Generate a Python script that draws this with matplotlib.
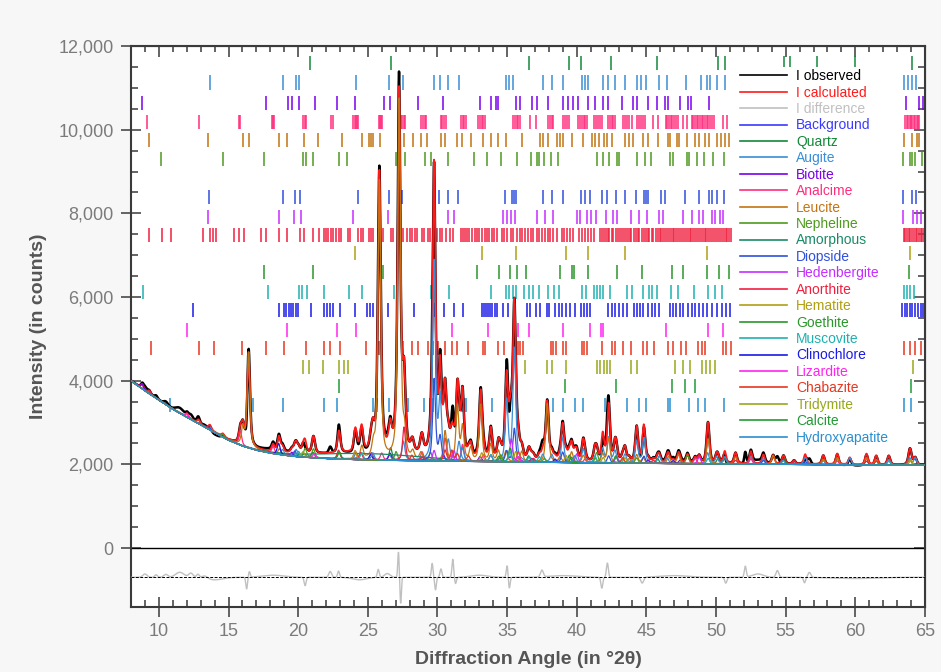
import numpy as np
import matplotlib
matplotlib.use('Agg')
import matplotlib.pyplot as plt
from matplotlib.lines import Line2D
from matplotlib.ticker import FixedLocator, FuncFormatter

plt.rcParams['font.family'] = ['Liberation Sans', 'DejaVu Sans']

# ---------------- data ----------------
X_MIN, X_MAX = 8.0, 65.0
Y_MIN, Y_MAX = -1410, 12000
DIFF_OFFSET = -700

# background (counts) at nodes (deg 2theta)
BG_X = [8, 9, 10, 11, 12, 13, 14, 15, 16, 17, 18, 19, 20, 22, 24, 26, 28, 30, 35, 40, 45, 50, 55, 60, 65]
BG_Y = [4000, 3760, 3540, 3320, 3130, 2950, 2760, 2580, 2440, 2340, 2270, 2220, 2180, 2140, 2115,
        2100, 2090, 2080, 2060, 2040, 2025, 2010, 2000, 1990, 1980]

LEGEND_LABELS = ['I observed', 'I calculated', 'I difference', 'Background', 'Quartz', 'Augite',
                 'Biotite', 'Analcime', 'Leucite', 'Nepheline', 'Amorphous', 'Diopside',
                 'Hedenbergite', 'Anorthite', 'Hematite', 'Goethite', 'Muscovite', 'Clinochlore',
                 'Lizardite', 'Chabazite', 'Tridymite', 'Calcite', 'Hydroxyapatite']
LEGEND_COLORS = ['#000000', '#ff1a1a', '#c0c0c0', '#3a3aff', '#13883a', '#3a8ed6',
                 '#7a00ea', '#ff2d7d', '#c27412', '#4f9a1f', '#1a8a66', '#3050dd',
                 '#c72cff', '#f0203f', '#b09f12', '#2b962b', '#1fb0b0', '#1a1ae6',
                 '#ff24f0', '#e8361e', '#98a81a', '#229a36', '#2a8fd0']

# reflection tick positions (deg 2theta) per phase
QUARTZ_TICKS = [20.86, 26.64, 36.54, 39.47, 40.29, 42.45, 45.79, 50.14, 50.62, 54.87, 55.32, 57.24, 59.96, 64.04]
AUGITE_TICKS = [13.69, 18.88, 19.86, 20.05, 24.16, 26.55, 27.56, 29.76, 30.19, 30.78, 31.55, 34.92, 35.12,
                35.42, 37.56, 38.2, 38.99, 40.35, 40.58, 40.83, 41.86, 42.26, 42.74, 43.46, 44.3, 44.62,
                44.97, 45.92, 46.49, 47.84, 48.89, 49.37, 49.56, 50.04, 50.63, 63.47, 63.75, 64.05, 64.38]
BIOTITE_TICKS = [8.79, 17.68, 19.26, 19.55, 20.07, 21.22, 22.78, 24.11, 26.19, 26.6, 28.59, 30.43, 33.06,
                 33.83, 34.2, 34.37, 35.64, 35.93, 36.77, 37.17, 37.96, 39.03, 39.4, 39.76, 40.1, 40.83,
                 41.31, 41.9, 42.26, 43.22, 44.06, 44.3, 45.13, 45.78, 46.33, 46.57, 47.41, 48.0, 48.17,
                 49.5, 63.67, 64.6, 64.85]
ANALCIME_TICKS = [9.15, 12.9, 15.77, 15.85, 18.12, 18.2, 18.28, 20.38, 20.46, 20.55, 22.37, 22.49, 23.97,
                  24.06, 24.15, 24.24, 24.33, 25.79, 25.88, 25.97, 26.05, 27.37, 27.47, 27.58, 27.68,
                  28.85, 28.95, 29.07, 29.18, 30.24, 30.36, 30.5, 30.62, 31.67, 31.8, 31.93, 32.05, 32.94,
                  33.06, 33.18, 33.3, 33.42, 35.45, 35.57, 35.69, 35.81, 35.93, 36.65, 37.08, 37.96, 38.08,
                  38.2, 38.32, 39.03, 39.17, 39.31, 39.46, 40.1, 40.22, 40.36, 40.5, 40.62, 40.71, 41.24,
                  41.38, 41.52, 41.66, 41.79, 42.26, 42.38, 42.5, 42.62, 42.74, 43.34, 43.48, 43.62, 43.78,
                  43.94, 44.34, 44.48, 44.62, 44.76, 44.9, 45.49, 45.85, 46.4, 46.5, 46.62, 46.74, 46.86,
                  46.98, 47.1, 47.28, 47.64, 47.89, 48.24, 48.36, 48.48, 48.6, 48.72, 48.84, 48.96, 49.08,
                  49.2, 49.32, 49.44, 49.56, 49.68, 49.84, 50.47, 50.75, 63.6, 63.7, 63.8, 63.9, 64.0,
                  64.1, 64.2, 64.3, 64.4, 64.5, 64.6]
LEUCITE_TICKS = [9.31, 13.52, 16.03, 16.44, 18.66, 19.19, 20.45, 21.39, 23.16, 24.57, 25.05, 25.2, 25.4,
                 25.88, 27.63, 28.23, 28.82, 29.23, 30.24, 30.55, 31.43, 31.79, 32.39, 33.25, 33.83, 34.37,
                 34.92, 36.05, 37.36, 37.6, 37.96, 38.6, 38.8, 38.99, 39.63, 40.47, 41.07, 41.3, 41.6,
                 41.95, 42.2, 42.5, 43.46, 43.75, 44.06, 44.77, 45.13, 45.8, 46.57, 46.69, 47.17, 47.35,
                 47.93, 48.48, 48.79, 49.2, 49.46, 50.04, 50.34, 50.64, 50.94, 63.5, 64.1, 64.4, 64.6]
NEPHELINE_TICKS = [10.17, 14.6, 17.56, 20.34, 20.58, 21.1, 22.96, 23.5, 27.03, 27.68, 29.11, 29.52, 30.78,
                   32.63, 33.54, 34.54, 35.69, 36.7, 37.17, 37.31, 37.67, 38.13, 38.67, 41.43, 41.86, 42.31,
                   42.86, 43.05, 44.3, 44.89, 45.3, 46.69, 46.92, 47.89, 48.07, 48.6, 49.13, 49.79, 50.56,
                   63.42, 63.9, 64.1, 64.3, 64.8]
AMORPHOUS_TICKS = []
DIOPSIDE_TICKS = [13.62, 18.88, 19.76, 20.15, 24.28, 26.55, 27.49, 29.76, 30.14, 30.78, 31.45, 34.85, 35.33,
                  35.48, 35.64, 37.56, 38.2, 38.99, 40.28, 40.6, 40.95, 41.79, 42.19, 42.79, 43.46, 44.23,
                  44.82, 45.0, 45.13, 46.02, 46.35, 47.76, 48.79, 49.46, 49.68, 50.08, 50.56, 63.42, 64.1,
                  64.33]
HEDENBERGITE_TICKS = [13.52, 18.59, 19.72, 20.2, 23.93, 26.44, 27.2, 29.76, 30.78, 31.19, 34.73, 35.0, 35.3,
                      35.6, 37.12, 37.72, 38.32, 40.0, 40.24, 40.75, 41.05, 41.38, 42.09, 42.62, 42.86,
                      43.87, 44.49, 45.06, 45.92, 46.16, 47.6, 48.24, 48.79, 49.08, 49.68, 49.95, 50.25,
                      50.51, 63.42, 64.12, 64.4, 64.7]
ANORTHITE_TICKS = [9.31, 10.22, 10.89, 13.16, 13.69, 13.9, 14.1, 15.36, 15.72, 16.08, 17.33, 17.68, 18.59,
                   19.19, 20.15, 20.43, 21.06, 21.51, 21.87, 22.0, 22.15, 22.35, 22.5, 22.7, 22.9, 23.05,
                   23.61, 23.73, 24.33, 24.48, 24.64, 25.12, 25.26, 25.4, 25.76, 26.12, 26.65, 26.84, 27.56,
                   27.8, 28.04, 28.2, 28.36, 28.52, 28.88, 29.04, 29.35, 29.5, 29.7, 29.95, 30.15, 30.3,
                   30.6, 30.9, 31.1, 31.67, 31.82, 31.98, 32.15, 32.3, 32.5, 32.66, 32.85, 33.0, 33.2,
                   33.38, 33.55, 33.72, 33.9, 34.08, 34.25, 34.61, 34.8, 35.0, 35.25, 35.45, 35.69, 35.9,
                   36.1, 36.3, 36.5, 36.7, 36.88, 37.12, 37.3, 37.5, 37.7, 37.92, 38.1, 38.3, 38.56, 38.92,
                   39.1, 39.3, 39.5, 39.75, 40.18, 40.4, 40.6, 40.8, 41.0, 41.24, 41.67, 41.8, 41.93, 42.1,
                   42.22, 42.35, 42.5, 42.62, 42.8, 42.95, 43.1, 43.22, 43.36, 43.5, 43.66, 43.8, 43.92,
                   44.1, 44.24, 44.38, 44.5, 44.66, 44.8, 44.95, 45.1, 45.22, 45.38, 45.5, 45.66, 45.8,
                   45.95, 46.08, 46.2, 46.35, 46.48, 46.6, 46.75, 46.88, 47.0, 47.15, 47.28, 47.4, 47.55,
                   47.7, 47.82, 47.96, 48.1, 48.22, 48.36, 48.5, 48.62, 48.78, 48.9, 49.05, 49.18, 49.3,
                   49.45, 49.6, 49.72, 49.86, 50.0, 50.15, 50.28, 50.4, 50.55, 50.7, 50.82, 50.96, 51.1,
                   63.5, 63.6, 63.72, 63.85, 63.95, 64.08, 64.2, 64.32, 64.45, 64.55, 64.68, 64.8, 64.92]
HEMATITE_TICKS = [24.09, 33.18, 35.62, 39.23, 40.83, 43.46, 49.37, 63.9]
GOETHITE_TICKS = [17.56, 21.06, 26.12, 32.87, 34.4, 35.21, 35.69, 36.36, 38.8, 39.63, 39.8, 40.78, 42.86,
                  44.66, 46.85, 47.6, 49.32, 50.22, 50.94, 63.86]
MUSCOVITE_TICKS = [8.86, 17.83, 20.03, 20.3, 20.6, 21.89, 23.66, 24.57, 26.91, 29.52, 30.86, 33.83, 34.92,
                   35.15, 35.4, 35.64, 36.21, 36.6, 36.88, 37.31, 37.96, 38.37, 38.75, 40.35, 40.66, 41.24,
                   41.45, 41.68, 41.9, 42.38, 43.58, 43.94, 44.73, 45.2, 45.37, 45.78, 46.74, 47.28, 48.41,
                   49.43, 49.91, 50.44, 63.5, 63.7, 63.95, 64.2]
CLINOCHLORE_TICKS = [12.42, 18.59, 18.95, 19.15, 19.35, 19.5, 19.65, 19.85, 20.0, 20.93, 21.82, 22.05, 22.25,
                     22.5, 23.0, 24.09, 24.93, 25.15, 25.4, 26.48, 27.08, 28.34, 29.83, 30.48, 31.19, 31.86,
                     33.18, 33.35, 33.5, 33.65, 33.8, 33.95, 34.1, 34.3, 34.73, 35.09, 35.57, 36.4, 36.64,
                     37.07, 37.36, 37.84, 38.03, 38.44, 38.7, 38.95, 39.2, 39.5, 39.87, 40.28, 40.5, 40.72,
                     40.95, 42.26, 42.5, 42.75, 43.0, 43.3, 43.58, 44.11, 44.33, 44.55, 44.77, 45.13, 45.4,
                     45.65, 45.92, 46.69, 46.92, 47.15, 47.4, 47.64, 48.0, 48.25, 48.5, 48.75, 49.05, 49.32,
                     49.68, 50.04, 50.4, 50.7, 50.99, 63.38, 63.55, 63.72, 63.9, 64.1, 64.3, 64.5, 64.7, 64.86]
LIZARDITE_TICKS = [12.02, 19.19, 22.78, 24.16, 31.03, 33.66, 35.8, 36.57, 38.99, 40.95, 41.72, 41.86, 46.4,
                   49.43, 50.51]
CHABAZITE_TICKS = [9.46, 12.85, 13.93, 15.96, 17.68, 18.95, 20.58, 21.89, 22.3, 23.01, 24.86, 25.83, 27.56,
                   28.16, 28.63, 29.35, 29.7, 30.07, 30.55, 31.03, 31.43, 32.22, 33.25, 33.42, 34.37, 34.78,
                   35.8, 35.96, 36.12, 38.13, 38.32, 38.51, 38.99, 39.23, 40.35, 40.53, 40.71, 41.79, 42.5,
                   42.74, 43.29, 43.89, 44.73, 45.02, 45.56, 46.57, 46.92, 47.46, 47.84, 48.72, 48.96, 49.2,
                   50.51, 50.71, 51.04, 63.5, 63.9, 64.3, 64.74]
TRIDYMITE_TICKS = [20.34, 20.79, 21.75, 22.96, 23.26, 23.56, 36.29, 37.89, 38.2, 39.23, 41.47, 41.7, 41.93,
                   42.15, 42.38, 43.87, 44.34, 47.05, 47.6, 48.12, 48.96, 49.28, 49.6, 49.91, 64.14]
CALCITE_TICKS = [22.94, 39.16, 42.79, 46.85, 47.76, 48.48, 64.02]
HYDROXYAPATITE_TICKS = [10.82, 16.75, 18.88, 21.82, 22.82, 25.36, 25.69, 26.55, 27.91, 29.04, 29.47, 29.69,
                        31.74, 31.9, 32.05, 33.11, 33.9, 38.32, 39.03, 39.87, 40.47, 42.02, 42.26, 43.58,
                        44.49, 44.97, 46.57, 46.69, 48.07, 48.72, 49.2, 50.56, 63.5, 64.0]

# vertical level (counts) of each phase's tick row
TICK_ROWS = [11590, 11125, 10640, 10180, 9750, 9300, None, 8390, 7910, 7480, 7050, 6600, 6120, 5690,
             5210, 4780, 4330, 3870, 3420]

# peaks of each phase's calculated profile: (deg 2theta, height above background)
QUARTZ_PEAKS = [(26.64, 300), (36.54, 150), (39.47, 180), (45.79, 120), (50.14, 130), (50.62, 120), (54.87, 130)]
AUGITE_PEAKS = [(13.69, 70), (18.88, 130), (19.86, 170), (24.16, 170), (26.55, 120), (27.56, 450),
                (29.76, 4750), (30.19, 1450), (30.78, 450), (31.55, 450), (34.97, 1450), (35.52, 2700),
                (37.56, 180), (38.2, 180), (38.99, 600), (40.47, 330), (41.86, 330), (42.29, 600),
                (42.74, 280), (43.46, 200), (44.3, 520), (44.82, 600), (45.92, 170), (46.49, 130),
                (49.4, 260), (50.04, 170), (50.63, 170), (52.5, 170), (53.4, 130), (54.8, 90),
                (56.4, 170), (57.7, 90), (59.6, 170), (62.4, 130), (63.9, 170), (64.3, 170)]
BIOTITE_PEAKS = [(8.8, 110), (19.55, 90), (26.6, 170), (30.43, 150), (33.06, 120), (33.83, 160), (36.77, 90),
                 (45.13, 80), (47.41, 80)]
ANALCIME_PEAKS = [(15.85, 330), (18.2, 170), (20.45, 90), (24.09, 210), (26.0, 170), (28.9, 210),
                  (30.55, 550), (31.8, 400), (33.3, 160), (35.8, 250), (40.6, 90), (48.5, 130),
                  (52.5, 130), (58.7, 90)]
LEUCITE_PEAKS = [(16.03, 420), (16.44, 2250), (18.66, 130), (24.57, 300), (25.4, 280), (25.83, 6650),
                 (27.25, 8600), (27.63, 550), (28.23, 170), (28.82, 170), (30.55, 700), (31.43, 1300),
                 (31.8, 800), (32.39, 300), (33.1, 1350), (33.83, 400), (34.37, 250), (34.92, 250),
                 (36.05, 250), (37.88, 1400), (38.8, 120), (39.63, 250), (40.47, 170), (41.3, 100),
                 (41.86, 200), (42.29, 600), (43.75, 100), (44.3, 200), (44.77, 130), (46.6, 170),
                 (47.3, 210), (49.43, 600), (51.4, 170), (54.1, 210), (57.7, 130), (58.7, 170),
                 (60.8, 170), (61.5, 130), (63.9, 130)]
NEPHELINE_PEAKS = [(14.6, 70), (20.5, 210), (21.1, 210), (22.96, 170), (27.03, 210), (29.5, 210),
                   (34.54, 170), (37.67, 90), (41.43, 250), (44.3, 130), (47.95, 210)]
AMORPHOUS_PEAKS = [(25.0, 150)]
DIOPSIDE_PEAKS = [(13.62, 50), (19.76, 130), (29.76, 1950), (30.19, 550), (34.97, 250), (35.52, 800),
                  (38.99, 250), (42.29, 170), (44.82, 170), (53.4, 90), (56.4, 70)]
HEDENBERGITE_PEAKS = [(29.76, 250), (31.19, 250), (35.3, 550), (40.0, 210), (42.86, 170), (48.79, 170)]
ANORTHITE_PEAKS = [(9.31, 70), (22.9, 210), (24.5, 170), (25.26, 170), (27.6, 800), (28.9, 90),
                   (36.9, 90), (45.5, 80), (51.4, 90), (55.6, 90), (60.8, 90)]
HEMATITE_PEAKS = [(24.09, 210), (33.18, 210), (35.62, 250), (39.23, 170), (43.46, 130), (63.99, 130)]
GOETHITE_PEAKS = [(21.06, 130), (34.4, 130), (35.21, 330), (39.63, 130)]
MUSCOVITE_PEAKS = [(20.03, 130), (24.57, 170), (33.83, 170), (35.2, 250), (36.6, 130), (37.31, 130),
                   (41.3, 170), (49.43, 130), (62.4, 90)]
CLINOCHLORE_PEAKS = [(18.6, 260), (25.2, 130), (38.44, 80), (46.92, 70)]
LIZARDITE_PEAKS = [(12.02, 90), (21.15, 90), (31.03, 250), (35.8, 130)]
CHABAZITE_PEAKS = [(12.85, 90), (28.16, 130), (30.55, 250), (31.03, 250), (31.43, 170), (32.22, 130),
                   (43.29, 130), (61.5, 90)]
TRIDYMITE_PEAKS = [(20.34, 130), (41.9, 130)]
CALCITE_PEAKS = [(22.94, 170), (42.79, 170)]
HYDROXYAPATITE_PEAKS = [(25.36, 170), (31.8, 330), (39.87, 170)]

PEAK_FWHM = 0.24
PEAK_ETA = 0.6
AMORPHOUS_FWHM = 9.0

# observed minus calculated features: (deg 2theta, amplitude, sigma)
RESIDUALS = [(9.0, 80, 0.15), (9.8, 60, 0.1), (10.5, 70, 0.15), (11.5, 120, 0.3), (12.3, 100, 0.15),
             (12.8, 80, 0.1), (13.3, 60, 0.2), (14.0, -60, 0.6), (16.3, -280, 0.06), (16.5, 130, 0.06),
             (18.2, 50, 0.8), (20.5, -200, 0.07), (22.3, 140, 0.1), (22.9, 150, 0.07), (24.4, -60, 0.5),
             (25.75, 190, 0.07), (26.4, 90, 0.2), (27.2, 600, 0.05), (27.36, -620, 0.05),
             (29.62, 330, 0.06), (29.86, -300, 0.06), (30.25, 200, 0.07), (31.1, 430, 0.06),
             (31.3, -150, 0.06), (33.0, 50, 0.6), (35.0, 280, 0.06), (35.16, -260, 0.06),
             (37.5, 160, 0.1), (39.0, 40, 1.0), (41.8, -260, 0.07), (42.2, 340, 0.07),
             (44.7, -140, 0.1), (47.0, 40, 1.0), (50.7, -140, 0.08), (52.1, 260, 0.07),
             (53.0, 80, 0.4), (54.4, 160, 0.1), (56.35, -130, 0.07), (56.7, 120, 0.1), (60.0, -30, 1.5)]

PHASE_TICKS = [QUARTZ_TICKS, AUGITE_TICKS, BIOTITE_TICKS, ANALCIME_TICKS, LEUCITE_TICKS, NEPHELINE_TICKS,
               AMORPHOUS_TICKS, DIOPSIDE_TICKS, HEDENBERGITE_TICKS, ANORTHITE_TICKS, HEMATITE_TICKS,
               GOETHITE_TICKS, MUSCOVITE_TICKS, CLINOCHLORE_TICKS, LIZARDITE_TICKS, CHABAZITE_TICKS,
               TRIDYMITE_TICKS, CALCITE_TICKS, HYDROXYAPATITE_TICKS]
PHASE_PEAKS = [QUARTZ_PEAKS, AUGITE_PEAKS, BIOTITE_PEAKS, ANALCIME_PEAKS, LEUCITE_PEAKS, NEPHELINE_PEAKS,
               AMORPHOUS_PEAKS, DIOPSIDE_PEAKS, HEDENBERGITE_PEAKS, ANORTHITE_PEAKS, HEMATITE_PEAKS,
               GOETHITE_PEAKS, MUSCOVITE_PEAKS, CLINOCHLORE_PEAKS, LIZARDITE_PEAKS, CHABAZITE_PEAKS,
               TRIDYMITE_PEAKS, CALCITE_PEAKS, HYDROXYAPATITE_PEAKS]

# ---------------- build profiles ----------------
x = np.linspace(X_MIN, X_MAX, 5701)
bg = np.interp(x, BG_X, BG_Y)


def pseudo_voigt(xx, x0, h, fwhm, eta):
    d = (xx - x0) / fwhm
    return h * (eta / (1 + 4 * d * d) + (1 - eta) * np.exp(-4 * np.log(2) * d * d))


components = []
for name, peaks in zip(LEGEND_LABELS[4:], PHASE_PEAKS):
    w = AMORPHOUS_FWHM if name == 'Amorphous' else PEAK_FWHM
    eta = 0.0 if name == 'Amorphous' else PEAK_ETA
    prof = np.zeros_like(x)
    for p, h in peaks:
        prof += pseudo_voigt(x, p, h, w, eta)
    components.append(prof)

calc = bg + np.sum(components, axis=0)
resid = np.zeros_like(x)
for p, a, s in RESIDUALS:
    resid += a * np.exp(-0.5 * ((x - p) / s) ** 2)
obs = calc + resid

# ---------------- figure ----------------
fig = plt.figure(figsize=(9.41, 6.72), dpi=100, facecolor='#f7f7f7')
ax = fig.add_axes([131 / 941, 1 - 607 / 672, (925 - 131) / 941, (607 - 46) / 672])
ax.set_facecolor('white')
ax.set_xlim(X_MIN, X_MAX)
ax.set_ylim(Y_MIN, Y_MAX)

# reflection tick rows
TICK_HALF = 170
for ticks, row, col in zip(PHASE_TICKS, TICK_ROWS, LEGEND_COLORS[4:]):
    if row is None or not ticks:
        continue
    ax.vlines(ticks, row - TICK_HALF, row + TICK_HALF, colors=col, lw=1.1, zorder=1)

ax.axhline(0, color='black', lw=1.0, zorder=2)
ax.plot(x, obs, color=LEGEND_COLORS[0], lw=1.8, zorder=3)
ax.plot(x, calc, color=LEGEND_COLORS[1], lw=1.3, zorder=4)
ax.plot(x, DIFF_OFFSET + (obs - calc), color=LEGEND_COLORS[2], lw=1.0, zorder=3)
ax.axhline(DIFF_OFFSET, color='black', lw=0.7, ls=(0, (3, 1.5)), zorder=4)
ax.plot(x, bg, color=LEGEND_COLORS[3], lw=1.0, zorder=5)
for prof, col in zip(components, LEGEND_COLORS[4:]):
    ax.plot(x, bg + prof, color=col, lw=0.9, zorder=5)

# axes styling
SPINE = '#3a3a3a'
for s in ax.spines.values():
    s.set_color(SPINE)
    s.set_linewidth(1.5)

ax.xaxis.set_major_locator(FixedLocator(list(range(10, 66, 5))))
ax.xaxis.set_minor_locator(FixedLocator(list(range(8, 66))))
ax.yaxis.set_major_locator(FixedLocator(list(range(0, 12001, 2000))))
ax.yaxis.set_minor_locator(FixedLocator([v for v in range(500, 12000, 500) if v % 2000]))
ax.yaxis.set_major_formatter(FuncFormatter(lambda v, p: f'{int(v):,}'))

ax.tick_params(which='major', direction='inout', length=15, width=1.1, color=SPINE,
               labelsize=13, labelcolor='#7b7b7b')
ax.tick_params(axis='x', which='major', pad=4)
ax.tick_params(axis='y', which='major', pad=5)
ax.tick_params(which='minor', direction='in', length=5, width=1.1, color=SPINE)

secx = ax.secondary_xaxis('top')
secx.xaxis.set_major_locator(FixedLocator(list(range(10, 66, 5))))
secx.xaxis.set_minor_locator(FixedLocator(list(range(8, 66))))
secx.tick_params(which='major', direction='in', length=8, width=1.1, color=SPINE, labeltop=False)
secx.tick_params(which='minor', direction='in', length=4.5, width=1.1, color=SPINE)
secx.spines['top'].set_color(SPINE)
secy = ax.secondary_yaxis('right')
secy.yaxis.set_major_locator(FixedLocator(list(range(0, 12001, 2000))))
secy.yaxis.set_minor_locator(FixedLocator([v for v in range(500, 12000, 500) if v % 2000]))
secy.tick_params(which='major', direction='in', length=8, width=1.1, color=SPINE, labelright=False)
secy.tick_params(which='minor', direction='in', length=5, width=1.1, color=SPINE)
secy.spines['right'].set_color(SPINE)

ax.set_xlabel('Diffraction Angle (in °2θ)', fontsize=14, fontweight='bold', color='#555555')
ax.set_ylabel('Intensity (in counts)', fontsize=14, fontweight='bold', color='#555555')
ax.xaxis.set_label_coords(0.5, -0.078)
ax.yaxis.set_label_coords(-0.106, 0.5)

# legend
handles = [Line2D([], [], color=c, lw=1.2) for c in LEGEND_COLORS]
leg = ax.legend(handles, LEGEND_LABELS, loc='upper left', bbox_to_anchor=(0.7645, 0.9625),
                fontsize=10, frameon=True, fancybox=False, framealpha=1, handlelength=3.4,
                handletextpad=0.65, labelspacing=0.175, borderpad=0.15, borderaxespad=0)
leg.get_frame().set_facecolor('white')
leg.get_frame().set_edgecolor('none')
leg.set_zorder(10)
for t, c in zip(leg.get_texts(), LEGEND_COLORS):
    t.set_color(c)

fig.savefig('out.png', dpi=100, facecolor=fig.get_facecolor())
